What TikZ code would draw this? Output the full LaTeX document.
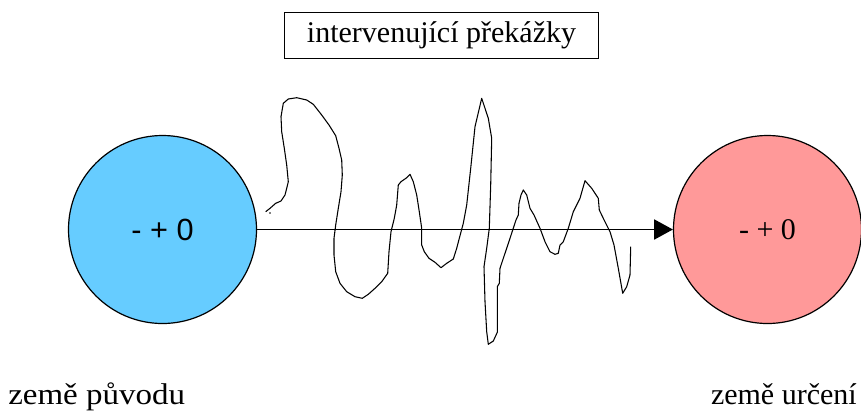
\documentclass[tikz,border=0pt]{standalone}
\usepackage{fontspec}
\setmainfont{Liberation Serif}
\newfontfamily\arialfont{Liberation Sans}
\usetikzlibrary{arrows.meta,positioning}

\definecolor{puvodblue}{RGB}{102,204,255}
\definecolor{urcenired}{RGB}{255,153,153}

\tikzset{
  zeme/.style={circle,draw,line width=0.9pt,minimum size=141pt,inner sep=0pt},
  popis/.style={font=\fontsize{22.5}{24}\selectfont,inner sep=0pt}
}

\begin{document}
\begin{tikzpicture}[x=0.75pt,y=-0.75pt]
  \useasboundingbox (0,0) rectangle (861,412);

  \node[zeme,fill=puvodblue] (puvod) at (162.5,229.5)
    {\arialfont\fontsize{23}{25}\selectfont - + 0};
  \node[zeme,fill=urcenired] (urceni) at (767.5,229.5)
    {\fontsize{22.5}{24}\selectfont - + 0};

  \node[popis,draw,line width=0.9pt,minimum width=236pt,minimum height=35pt]
    (prekazky) at (441.5,35.5) {intervenující překážky};

  \node[popis,anchor=base west] (lpuvod) at (8,404) {\scalebox{1.1}[1]{země původu}};
  \node[popis,anchor=base east] (lurceni) at (857,404) {země určení};

  % hand drawn barriers
  \draw[line width=0.8pt,line join=round]
    (265.7,211.7) -- (270,208.3) -- (275.7,203.3) -- (281,201) -- (285,195)
    -- (286.7,188.3) -- (288.3,181.7) -- (286.7,165) -- (284.3,148.3)
    -- (281.7,131.7) -- (281,116.7) -- (283.3,103.3) -- (288.3,99)
    -- (296.7,97.7) -- (306.7,100) -- (313.3,104.3) -- (321.7,115)
    -- (329,125) -- (335.7,135.7) -- (339,148.3) -- (341.7,160)
    -- (342.3,175) -- (341,191.7) -- (338.3,208.3) -- (335.7,225)
    -- (334,238.3) -- (334,255) -- (335.7,271.7) -- (340,283.3)
    -- (346.7,291.7) -- (355,296.7) -- (362.3,298.3) -- (368.3,294.3)
    -- (375,288.3) -- (381.7,281.7) -- (387.7,273.3) -- (389,251.7)
    -- (391,231.7) -- (394.3,218.3) -- (396.7,205) -- (398.3,185)
    -- (401,181.7) -- (406.7,177.7) -- (410,174.3) -- (413.3,181.7)
    -- (416.7,195) -- (419.3,211.7) -- (421.7,228.3) -- (421.7,245)
    -- (424.3,251.7) -- (429,258.3) -- (435,262.3) -- (441,267.7)
    -- (446.7,263.3) -- (453.3,259) -- (456.7,248.3) -- (459.3,238.3)
    -- (463.3,223.3) -- (466.7,205) -- (470.7,168.3) -- (475,126.7)
    -- (481.7,98.3) -- (488.3,118.3) -- (491.7,138.3) -- (490.7,185)
    -- (489.3,228.3) -- (486.7,248.3) -- (484,266.7) -- (485,301.7)
    -- (486.7,331.7) -- (488.3,344.3) -- (493.3,341) -- (497.3,332.3)
    -- (497.3,286.7) -- (499.3,283.3) -- (500,268.3) -- (503.3,258.3)
    -- (506.7,248.3) -- (510,238.3) -- (512.7,230) -- (516,220)
    -- (518.3,215) -- (519,203.3) -- (521,195) -- (523.3,190)
    -- (526.7,195) -- (530,208.3) -- (534,215) -- (540,228.3)
    -- (545,241.7) -- (550,251.7) -- (555,254.3) -- (558.3,253.3)
    -- (560,245) -- (563.3,241.7) -- (568.3,228.3) -- (573.3,211.7)
    -- (580,198.3) -- (585,180.7) -- (591.7,188.3) -- (598.3,198.3)
    -- (599.3,210) -- (603.3,218.3) -- (610,231.7) -- (614,245)
    -- (618.3,268.3) -- (622.7,293.3) -- (626.7,286.7) -- (630,275)
    -- (630.7,246.7);
  \fill (270,213) circle (0.8);

  \draw[line width=1.1pt,-{Triangle[length=14pt,width=15pt]}]
    (puvod.east) -- (urceni.west);
\end{tikzpicture}
\end{document}
